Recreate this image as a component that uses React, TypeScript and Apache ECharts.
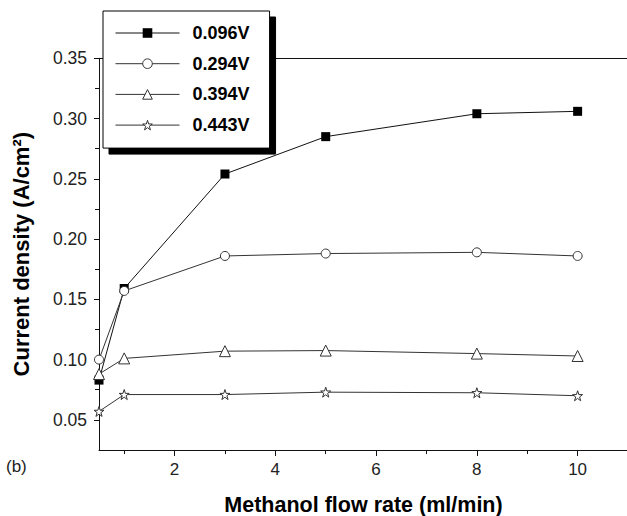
import { useEffect, useRef } from "react";
import * as echarts from "echarts";

// Methanol flow rate (ml/min) at which each current density was measured
const flowRates = [0.5, 1, 3, 5, 8, 10];

// Series labels (cell voltage)
const seriesNames = ["0.096V", "0.294V", "0.394V", "0.443V"];

// Current density (A/cm²) for each voltage
const current096 = [0.083, 0.159, 0.254, 0.285, 0.304, 0.306];
const current294 = [0.1, 0.157, 0.186, 0.188, 0.189, 0.186];
const current394 = [0.088, 0.101, 0.107, 0.1075, 0.105, 0.103];
const current443 = [0.057, 0.071, 0.071, 0.073, 0.0725, 0.07];

// Tick positions
const xMajorTicks = [2, 4, 6, 8, 10];
const xMinorTicks = [1, 3, 5, 7, 9];
const yMajorTicks = [0.05, 0.1, 0.15, 0.2, 0.25, 0.3, 0.35];
const yMinorTicks = [0.075, 0.125, 0.175, 0.225, 0.275, 0.325];

const FONT = "'Liberation Sans', Arial, Helvetica, sans-serif";
const INK = "#111";
const GREY = "#333";

const STAR =
  "path://M50,2 L61.8,37.6 L99,37.6 L68.9,59.6 L80.3,95 L50,73.2 L19.7,95 L31.1,59.6 L1,37.6 L38.2,37.6 Z";

const toPairs = (ys: number[]) => flowRates.map((x, i) => [x, ys[i]]);

export default function App() {
  const ref = useRef<HTMLDivElement>(null);

  useEffect(() => {
    if (!ref.current) return;
    const chart = echarts.init(ref.current, undefined, { renderer: "svg" });

    const baseX = {
      type: "value" as const,
      min: 0.5,
      max: 11,
      splitLine: { show: false },
    };
    const baseY = {
      type: "value" as const,
      min: 0.025,
      max: 0.35,
      splitLine: { show: false },
    };

    const thinLine = { color: INK, width: 1 };
    const greyLine = { color: GREY, width: 1 };

    // marker styles shared by plot and legend
    const markStyles = [
      { color: "#000", borderWidth: 0 },
      { color: "#fff", borderColor: GREY, borderWidth: 1 },
      { color: "#fff", borderColor: GREY, borderWidth: 1 },
      { color: "#fff", borderColor: GREY, borderWidth: 1 },
    ];
    const markLines = [thinLine, greyLine, greyLine, greyLine];

    chart.setOption({
      animation: false,
      backgroundColor: "#fff",
      textStyle: { fontFamily: FONT },
      grid: {
        left: 99,
        top: 58.3,
        width: 529,
        height: 391.7,
        containLabel: false,
        outerBoundsMode: "none",
      },
      legend: {
        orient: "vertical",
        left: 103,
        top: 11,
        padding: [13, 20, 14, 12],
        itemWidth: 64,
        itemHeight: 12,
        itemGap: 12.7,
        backgroundColor: "#fff",
        borderColor: "#000",
        borderWidth: 1,
        shadowColor: "#000",
        shadowOffsetX: 6,
        shadowOffsetY: 6,
        shadowBlur: 0,
        textStyle: {
          fontFamily: FONT,
          fontSize: 18,
          fontWeight: "bold",
          color: "#000",
          lineHeight: 18,
          padding: [0, 0, 0, 8],
        },
        data: seriesNames.map((name, i) => ({
          name,
          itemStyle: markStyles[i],
          lineStyle: markLines[i],
        })),
      },
      xAxis: [
        {
          ...baseX,
          position: "bottom",
          axisLine: { show: true, lineStyle: { color: INK, width: 1 } },
          axisTick: {
            show: true,
            length: 6,
            customValues: xMajorTicks,
            lineStyle: { color: INK },
          },
          axisLabel: {
            show: true,
            customValues: xMajorTicks,
            fontSize: 17,
            color: "#222",
            fontFamily: FONT,
            margin: 11,
          },
          name: "Methanol flow rate (ml/min)",
          nameLocation: "middle",
          nameGap: 44,
          nameTextStyle: {
            fontFamily: FONT,
            fontSize: 21.5,
            fontWeight: "bold",
            color: "#000",
          },
        },
        {
          ...baseX,
          position: "bottom",
          axisLine: { show: false },
          axisTick: {
            show: true,
            length: 4,
            customValues: xMinorTicks,
            lineStyle: { color: INK },
          },
          axisLabel: { show: false },
        },
        {
          ...baseX,
          position: "top",
          axisLine: { show: true, lineStyle: { color: INK, width: 1 } },
          axisTick: { show: false },
          axisLabel: { show: false },
        },
      ],
      yAxis: [
        {
          ...baseY,
          position: "left",
          axisLine: { show: true, lineStyle: { color: INK, width: 1 } },
          axisTick: {
            show: true,
            length: 5,
            customValues: yMajorTicks,
            lineStyle: { color: INK },
          },
          axisLabel: {
            show: true,
            customValues: yMajorTicks,
            formatter: (v: number) => v.toFixed(2),
            fontSize: 17.5,
            color: "#222",
            fontFamily: FONT,
            margin: 12,
          },
          name: "Current density (A/cm²)",
          nameLocation: "middle",
          nameRotate: 90,
          nameGap: 67,
          nameTextStyle: {
            fontFamily: FONT,
            fontSize: 22,
            fontWeight: "bold",
            color: "#000",
          },
        },
        {
          ...baseY,
          position: "left",
          axisLine: { show: false },
          axisTick: {
            show: true,
            length: 4,
            customValues: yMinorTicks,
            lineStyle: { color: INK },
          },
          axisLabel: { show: false },
        },
      ],
      graphic: [
        {
          type: "text",
          left: 6,
          top: 458,
          style: { text: "(b)", fontFamily: FONT, fontSize: 17, fill: "#222" },
        },
      ],
      series: [
        {
          name: seriesNames[0],
          type: "line",
          data: toPairs(current096),
          symbol: "rect",
          symbolSize: 9,
          itemStyle: markStyles[0],
          lineStyle: markLines[0],
        },
        {
          name: seriesNames[1],
          type: "line",
          data: toPairs(current294),
          symbol: "circle",
          symbolSize: 9,
          itemStyle: markStyles[1],
          lineStyle: markLines[1],
        },
        {
          name: seriesNames[2],
          type: "line",
          data: toPairs(current394),
          symbol: "triangle",
          symbolSize: 11,
          itemStyle: markStyles[2],
          lineStyle: markLines[2],
        },
        {
          name: seriesNames[3],
          type: "line",
          data: toPairs(current443),
          symbol: STAR,
          symbolSize: 10,
          itemStyle: markStyles[3],
          lineStyle: markLines[3],
        },
      ],
    });

    return () => chart.dispose();
  }, []);

  return (
    <div
      ref={ref}
      style={{ position: "fixed", left: 0, top: 0, width: 627, height: 516 }}
    />
  );
}
